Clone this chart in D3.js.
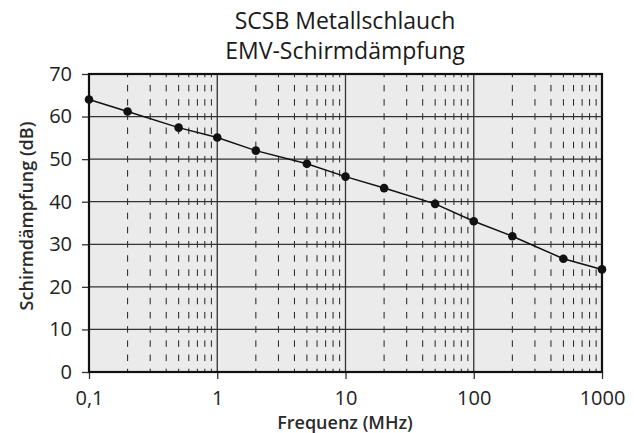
<!DOCTYPE html>
<html>
<head>
<meta charset="utf-8">
<script src="https://cdn.jsdelivr.net/npm/d3@7"></script>
<style>
  body { margin: 0; background: #fff; }
  #container { width: 634px; height: 433px; }
  text { font-family: "Open Sans", sans-serif; fill: #222; }
</style>
</head>
<body>
<div id="container"></div>
<script>
// data
const freqs = [0.1, 0.2, 0.5, 1, 2, 5, 10, 20, 50, 100, 200, 500, 1000];
const dampingDb = [64, 61.2, 57.4, 55.1, 52, 48.9, 45.9, 43.2, 39.5, 35.4, 31.9, 26.6, 24.1];
const xTicks = [0.1, 1, 10, 100, 1000];
const xTickLabels = ["0,1", "1", "10", "100", "1000"];
const yTicks = [0, 10, 20, 30, 40, 50, 60, 70];
const titleLines = ["SCSB Metallschlauch", "EMV-Schirmdämpfung"];

const margin = { top: 74, right: 32, bottom: 61, left: 89 };
const W = 634, H = 433;
const width = W - margin.left - margin.right;
const height = H - margin.top - margin.bottom;

const svg = d3.select("#container").append("svg")
    .attr("width", W).attr("height", H);

const x = d3.scaleLog().domain([0.1, 1000]).range([0, width]);
const y = d3.scaleLinear().domain([0, 70]).range([height, 0]);

// title
svg.selectAll(".title").data(titleLines).enter().append("text")
    .attr("x", 345).attr("y", (d, i) => 29 + i * 30)
    .attr("text-anchor", "middle").attr("font-size", 23)
    .style("fill", "#1a1a1a")
    .text(d => d);

const g = svg.append("g").attr("transform", `translate(${margin.left},${margin.top})`);

g.append("rect").attr("width", width).attr("height", height).attr("fill", "#ebebeb");

// minor vertical grid, dashed
const minors = [];
[0.1, 1, 10, 100].forEach(dec => { for (let k = 2; k <= 9; k++) minors.push(dec * k); });
const period = height / 21;
g.selectAll(".minor").data(minors).enter().append("line")
    .attr("x1", d => x(d)).attr("x2", d => x(d))
    .attr("y1", height).attr("y2", 0)
    .attr("stroke", "#222").attr("stroke-width", 1)
    .attr("stroke-dasharray", `${period * 0.46},${period * 0.54}`)
    .attr("stroke-dashoffset", period * 0.23);

// major grid
g.selectAll(".hgrid").data(yTicks.slice(1, -1)).enter().append("line")
    .attr("x1", 0).attr("x2", width).attr("y1", d => y(d)).attr("y2", d => y(d))
    .attr("stroke", "#333").attr("stroke-width", 1.3);
g.selectAll(".vgrid").data(xTicks.slice(1, -1)).enter().append("line")
    .attr("x1", d => x(d)).attr("x2", d => x(d)).attr("y1", 0).attr("y2", height)
    .attr("stroke", "#333").attr("stroke-width", 1.3);

// axes
const yAxis = g.append("g").call(d3.axisLeft(y).tickValues(yTicks).tickSize(7).tickPadding(10));
yAxis.select(".domain").remove();
yAxis.selectAll("line").attr("stroke", "#333").attr("stroke-width", 1.3);
yAxis.selectAll("text").attr("font-size", 20).attr("font-family", "Open Sans").attr("fill", "#222");

const xAxis = g.append("g").attr("transform", `translate(0,${height})`)
    .call(d3.axisBottom(x).tickValues(xTicks).tickFormat((d, i) => xTickLabels[i]).tickSize(7).tickPadding(12));
xAxis.select(".domain").remove();
xAxis.selectAll("line").attr("stroke", "#333").attr("stroke-width", 1.3);
xAxis.selectAll("text").attr("font-size", 20).attr("font-family", "Open Sans").attr("fill", "#222");

// border
g.append("rect").attr("width", width).attr("height", height)
    .attr("fill", "none").attr("stroke", "#111").attr("stroke-width", 2.2);

// series
const line = d3.line().x((d, i) => x(freqs[i])).y(d => y(d));
g.append("path").datum(dampingDb).attr("d", line)
    .attr("fill", "none").attr("stroke", "#111").attr("stroke-width", 1.5);
g.selectAll(".pt").data(dampingDb).enter().append("circle")
    .attr("cx", (d, i) => x(freqs[i])).attr("cy", d => y(d))
    .attr("r", 4.3).attr("fill", "#111");

// axis titles
svg.append("text").attr("x", 345).attr("y", 429)
    .attr("text-anchor", "middle").attr("font-size", 18).attr("font-weight", 600)
    .style("fill", "#2a2a2a")
    .text("Frequenz (MHz)");
svg.append("text").attr("transform", "translate(33,216) rotate(-90)")
    .attr("text-anchor", "middle").attr("font-size", 18).attr("font-weight", 600)
    .style("fill", "#2a2a2a")
    .text("Schirmdämpfung (dB)");
</script>
</body>
</html>
